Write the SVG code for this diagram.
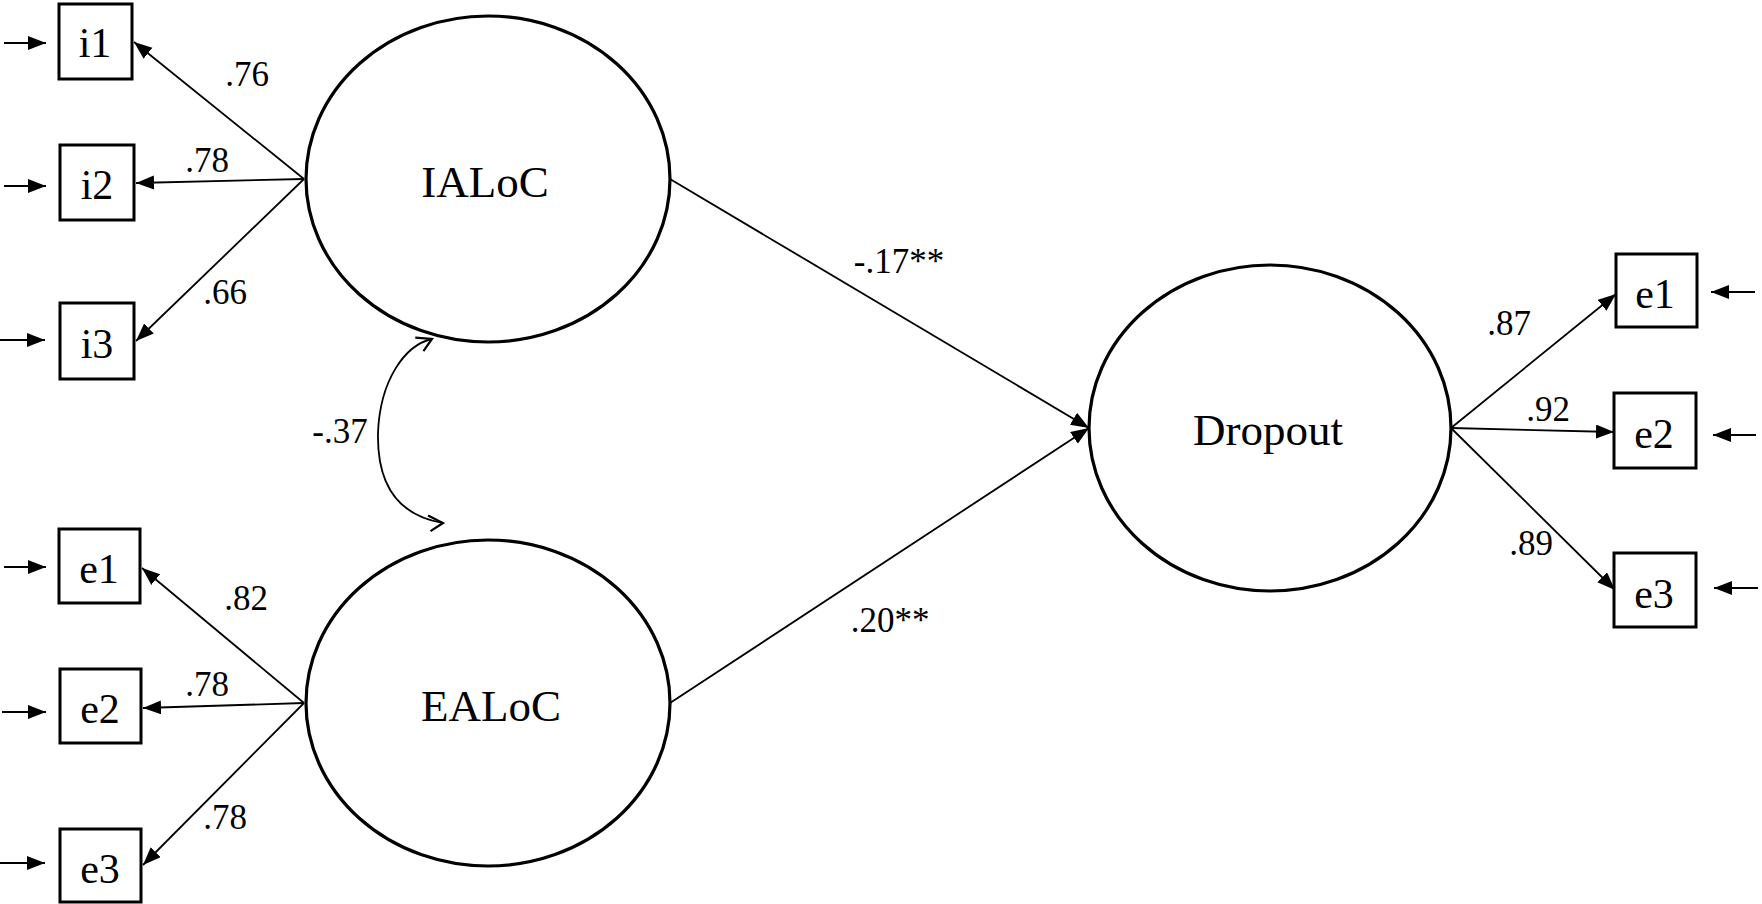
<svg xmlns="http://www.w3.org/2000/svg" width="1762" height="904" viewBox="0 0 1762 904">
<style>
.lat{fill:#fff;stroke:#000;stroke-width:3.2}
.obs{fill:#fff;stroke:#000;stroke-width:3}
.nl{font-family:"Liberation Serif","Times New Roman",serif;font-size:45px;text-anchor:middle;fill:#000}
.bl{font-family:"Liberation Serif","Times New Roman",serif;font-size:42px;text-anchor:middle;fill:#000}
.el{font-family:"Liberation Serif","Times New Roman",serif;font-size:35px;text-anchor:middle;fill:#000}
.c{stroke:#000;stroke-width:1.8;fill:none}
.a{marker-end:url(#ah)}
</style>
<defs>
<marker id="ah" markerUnits="userSpaceOnUse" markerWidth="20" markerHeight="16" refX="18" refY="7" orient="auto">
<path d="M0,0 L18,7 L0,14 Z" fill="#000"/>
</marker>
<marker id="oh" markerUnits="userSpaceOnUse" markerWidth="22" markerHeight="22" refX="17" refY="8" orient="auto-start-reverse">
<path d="M1,3 L17,8 L6,18" fill="none" stroke="#000" stroke-width="2.2"/>
</marker>
</defs>
<g id="connectors">
<line class="c a" x1="304" y1="179" x2="134" y2="42"/>
<line class="c a" x1="304" y1="179" x2="136" y2="183"/>
<line class="c a" x1="304" y1="179" x2="136" y2="341"/>
<line class="c a" x1="304" y1="703" x2="142" y2="568"/>
<line class="c a" x1="304" y1="703" x2="143" y2="708"/>
<line class="c a" x1="304" y1="703" x2="143" y2="865"/>
<line class="c a" x1="1451" y1="428" x2="1616" y2="294"/>
<line class="c a" x1="1451" y1="428" x2="1614" y2="432"/>
<line class="c a" x1="1451" y1="428" x2="1615" y2="590"/>
<line class="c a" x1="670" y1="179" x2="1089" y2="428"/>
<line class="c a" x1="670" y1="703" x2="1089" y2="428"/>
<line class="c a" x1="4" y1="43" x2="46" y2="43"/>
<line class="c a" x1="4" y1="186" x2="46" y2="186"/>
<line class="c a" x1="0" y1="340" x2="45" y2="340"/>
<line class="c a" x1="4" y1="567" x2="46" y2="567"/>
<line class="c a" x1="2" y1="712" x2="46" y2="712"/>
<line class="c a" x1="0" y1="863" x2="45" y2="863"/>
<line class="c a" x1="1755" y1="292" x2="1711" y2="292"/>
<line class="c a" x1="1756" y1="435" x2="1713" y2="435"/>
<line class="c a" x1="1758" y1="588" x2="1714" y2="588"/>
<path class="c" stroke-width="2" d="M432,339 C405,345 380,380 378,433 C377,482 395,515 443,523" marker-start="url(#oh)" marker-end="url(#oh)"/>
<text class="el" x="247" y="86">.76</text>
<text class="el" x="207" y="172">.78</text>
<text class="el" x="225" y="304">.66</text>
<text class="el" x="246" y="610">.82</text>
<text class="el" x="207" y="696">.78</text>
<text class="el" x="225" y="829">.78</text>
<text class="el" x="340" y="443">-.37</text>
<text class="el" x="899" y="273">-.17**</text>
<text class="el" x="890" y="632">.20**</text>
<text class="el" x="1509" y="335">.87</text>
<text class="el" x="1548" y="421">.92</text>
<text class="el" x="1531" y="555">.89</text>
</g>
<g id="IALoC"><ellipse class="lat" cx="488" cy="179" rx="182" ry="163"/><text class="nl" x="485" y="197">IALoC</text></g>
<g id="EALoC"><ellipse class="lat" cx="488" cy="703" rx="182" ry="163"/><text class="nl" x="491" y="721">EALoC</text></g>
<g id="Dropout"><ellipse class="lat" cx="1270" cy="428" rx="181" ry="163"/><text class="nl" x="1268" y="445">Dropout</text></g>
<g id="i1"><rect class="obs" x="59" y="4" width="73" height="75"/><text class="bl" x="95" y="57">i1</text></g>
<g id="i2"><rect class="obs" x="60" y="145" width="74" height="75"/><text class="bl" x="97" y="199">i2</text></g>
<g id="i3"><rect class="obs" x="60" y="303" width="74" height="76"/><text class="bl" x="97" y="358">i3</text></g>
<g id="e1-left"><rect class="obs" x="59" y="529" width="81" height="74"/><text class="bl" x="99" y="583">e1</text></g>
<g id="e2-left"><rect class="obs" x="60" y="669" width="81" height="74"/><text class="bl" x="100" y="723">e2</text></g>
<g id="e3-left"><rect class="obs" x="60" y="829" width="81" height="73"/><text class="bl" x="100" y="883">e3</text></g>
<g id="e1-right"><rect class="obs" x="1616" y="254" width="81" height="73"/><text class="bl" x="1655" y="308">e1</text></g>
<g id="e2-right"><rect class="obs" x="1614" y="393" width="82" height="75"/><text class="bl" x="1654" y="448">e2</text></g>
<g id="e3-right"><rect class="obs" x="1614" y="553" width="82" height="74"/><text class="bl" x="1654" y="608">e3</text></g>
</svg>
